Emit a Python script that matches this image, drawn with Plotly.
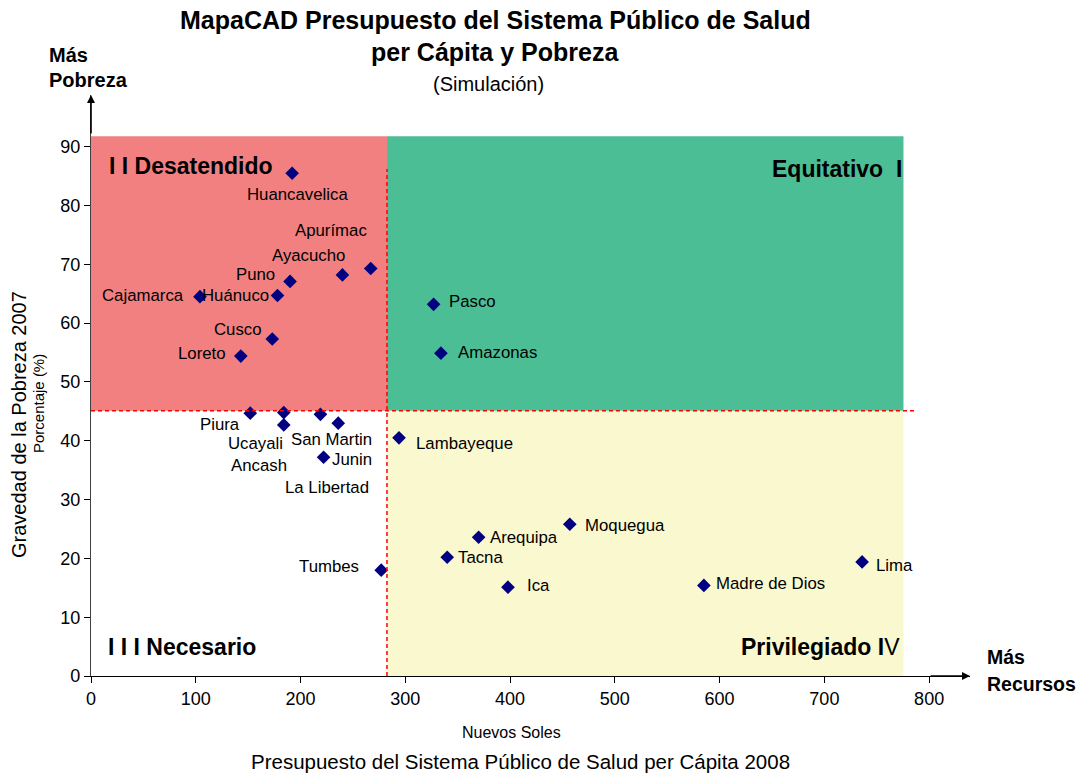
import plotly.graph_objects as go

# ---------------- data ----------------
departamentos = ["Huancavelica", "Apurímac", "Ayacucho", "Puno", "Huánuco", "Cajamarca",
                 "Pasco", "Cusco", "Amazonas", "Loreto", "Piura", "Ucayali", "San Martin",
                 "Junin", "Ancash", "Lambayeque", "La Libertad", "Moquegua", "Arequipa",
                 "Tacna", "Tumbes", "Madre de Dios", "Lima", "Ica"]
presupuesto = [192, 267, 240, 190, 178, 104,
               327, 173, 334, 143, 152, 184, 219,
               236, 184, 294, 222, 457, 370,
               340, 277, 585, 736, 398]
pobreza = [85.5, 69.3, 68.2, 67.1, 64.7, 64.5,
           63.2, 57.3, 54.9, 54.4, 44.7, 44.8, 44.5,
           43.0, 42.7, 40.5, 37.2, 25.8, 23.6,
           20.2, 18.0, 15.4, 19.4, 15.1]

x_ticks = [0, 100, 200, 300, 400, 500, 600, 700, 800]
y_ticks = [0, 10, 20, 30, 40, 50, 60, 70, 80, 90]

# quadrant limits (data units)
x_div = 282.5
y_div = 45.1
x_end = 775.5
y_top = 91.8

# ---------------- label placement (pixels) ----------------
# anchor, dx (px, right +), dy (px, down +)
label_pos = {
    "Huancavelica": ("center", 5.7, 21),
    "Apurímac": ("center", -39.4, -38.3),
    "Ayacucho": ("center", -34.4, -19.3),
    "Puno": ("right", -14.4, -7.4),
    "Huánuco": ("right", -7.3, 0),
    "Cajamarca": ("right", -14.7, -1),
    "Cusco": ("right", -9.6, -9.3),
    "Loreto": ("right", -14, -3),
    "Piura": ("right", -9.6, 11.7),
    "Ucayali": ("right", 0, 30.6),
    "Ancash": ("right", 4, 40.3),
    "San Martin": ("center", 10.6, 25),
    "Junin": ("left", -7, 36),
    "La Libertad": ("center", 3.2, 30),
    "Pasco": ("left", 14.7, -2.4),
    "Amazonas": ("left", 16, -0.6),
    "Lambayeque": ("left", 16, 5.3),
    "Moquegua": ("left", 14, 1.7),
    "Arequipa": ("left", 10, 0),
    "Tacna": ("left", 10, 0),
    "Tumbes": ("right", -21.3, -4),
    "Ica": ("left", 17.7, -2),
    "Lima": ("left", 12.6, 3.3),
    "Madre de Dios": ("left", 11.3, -2.4),
}

W, H = 1078, 773
L, R, T, B = 91, 108, 95, 97
PW, PH = W - L - R, H - T - B
FONT = "Liberation Sans, Arial, sans-serif"


def px(xp):
    return (xp - L) / PW


def py(yp):
    return (H - B - yp) / PH


fig = go.Figure()

fig.add_trace(go.Scatter(
    x=presupuesto, y=pobreza, mode="markers",
    marker=dict(symbol="diamond", size=10.5, color="#000080", line=dict(width=0)),
    text=departamentos, hoverinfo="text", showlegend=False, cliponaxis=False,
))

shapes = [
    dict(type="rect", xref="x", yref="y", x0=0, x1=x_div, y0=y_div, y1=y_top,
         fillcolor="#F28080", line=dict(width=0), layer="below"),
    dict(type="rect", xref="x", yref="y", x0=x_div, x1=x_end, y0=y_div, y1=y_top,
         fillcolor="#4BBE96", line=dict(width=0), layer="below"),
    dict(type="rect", xref="x", yref="y", x0=x_div, x1=x_end, y0=0, y1=y_div,
         fillcolor="#FAF8CE", line=dict(width=0), layer="below"),
    dict(type="line", xref="x", yref="y", x0=0, x1=787.5, y0=y_div, y1=y_div,
         line=dict(color="#FF0000", width=1.5, dash="4px,3px"), layer="above"),
    dict(type="line", xref="x", yref="y", x0=x_div, x1=x_div, y0=0, y1=86.2,
         line=dict(color="#FF0000", width=1.5, dash="4px,3px"), layer="above"),
]

ann = []
for name, xv, yv in zip(departamentos, presupuesto, pobreza):
    anc, dx, dy = label_pos[name]
    ann.append(dict(x=xv, y=yv, xref="x", yref="y", text=name, showarrow=False,
                    xanchor=anc, yanchor="middle", xshift=dx, yshift=-dy,
                    borderpad=0, font=dict(family=FONT, size=16.8, color="#000000")))

# quadrant names
qfont = dict(family=FONT, size=23, color="#000000")
ann += [
    dict(x=px(108), y=py(166), xref="paper", yref="paper", text="<b>I I Desatendido</b>",
         showarrow=False, xanchor="left", yanchor="middle", font=qfont, borderpad=0),
    dict(x=px(903), y=py(169), xref="paper", yref="paper", text="<b>Equitativo  I</b>",
         showarrow=False, xanchor="right", yanchor="middle", font=qfont, borderpad=0),
    dict(x=px(107), y=py(647), xref="paper", yref="paper", text="<b>I I I Necesario</b>",
         showarrow=False, xanchor="left", yanchor="middle", font=qfont, borderpad=0),
    dict(x=px(901), y=py(647), xref="paper", yref="paper", text="<b>Privilegiado I</b>V",
         showarrow=False, xanchor="right", yanchor="middle", font=qfont, borderpad=0),
]

# titles
ann += [
    dict(x=px(495), y=py(20), xref="paper", yref="paper",
         text="<b>MapaCAD Presupuesto del Sistema Público de Salud</b>",
         showarrow=False, xanchor="center", yanchor="middle",
         font=dict(family=FONT, size=25, color="#000000")),
    dict(x=px(495), y=py(52), xref="paper", yref="paper",
         text="<b>per Cápita y Pobreza</b>",
         showarrow=False, xanchor="center", yanchor="middle",
         font=dict(family=FONT, size=25, color="#000000")),
    dict(x=px(488), y=py(84), xref="paper", yref="paper", text="(Simulación)",
         showarrow=False, xanchor="center", yanchor="middle",
         font=dict(family=FONT, size=20, color="#000000")),
    dict(x=px(47), y=py(55), xref="paper", yref="paper", text="<b>Más</b>",
         showarrow=False, xanchor="left", yanchor="middle",
         font=dict(family=FONT, size=20, color="#000000")),
    dict(x=px(47), y=py(80), xref="paper", yref="paper", text="<b>Pobreza</b>",
         showarrow=False, xanchor="left", yanchor="middle",
         font=dict(family=FONT, size=20, color="#000000")),
    dict(x=px(985), y=py(657), xref="paper", yref="paper", text="<b>Más</b>",
         showarrow=False, xanchor="left", yanchor="middle",
         font=dict(family=FONT, size=19.5, color="#000000")),
    dict(x=px(985), y=py(684), xref="paper", yref="paper", text="<b>Recursos</b>",
         showarrow=False, xanchor="left", yanchor="middle",
         font=dict(family=FONT, size=19.5, color="#000000")),
    dict(x=px(19), y=py(425), xref="paper", yref="paper", text="Gravedad de la Pobreza 2007",
         showarrow=False, xanchor="center", yanchor="middle", textangle=-90,
         font=dict(family=FONT, size=20, color="#000000")),
    dict(x=px(38), y=py(404), xref="paper", yref="paper", text="Porcentaje (%)",
         showarrow=False, xanchor="center", yanchor="middle", textangle=-90,
         font=dict(family=FONT, size=15, color="#000000")),
    dict(x=px(511), y=py(732), xref="paper", yref="paper", text="Nuevos Soles",
         showarrow=False, xanchor="center", yanchor="middle",
         font=dict(family=FONT, size=16, color="#000000")),
    dict(x=px(520), y=py(761), xref="paper", yref="paper",
         text="Presupuesto del Sistema Público de Salud per Cápita 2008",
         showarrow=False, xanchor="center", yanchor="middle",
         font=dict(family=FONT, size=20.5, color="#000000")),
]

# axis arrows
ann += [
    dict(x=839, y=0, ax=800, ay=0, xref="x", yref="y", axref="x", ayref="y", text="",
         showarrow=True, arrowhead=2, arrowsize=1, arrowwidth=1.6, arrowcolor="#000000"),
    dict(x=0, y=98.8, ax=0, ay=92, xref="x", yref="y", axref="x", ayref="y", text="",
         showarrow=True, arrowhead=2, arrowsize=1, arrowwidth=1.6, arrowcolor="#000000"),
]

fig.update_layout(
    width=W, height=H,
    margin=dict(l=L, r=R, t=T, b=B),
    paper_bgcolor="#FFFFFF", plot_bgcolor="#FFFFFF",
    shapes=shapes, annotations=ann,
    font=dict(family=FONT, size=18, color="#000000"),
    xaxis=dict(range=[0, 839], tickvals=x_ticks, showgrid=False, zeroline=False,
               showline=True, linecolor="#000000", linewidth=1.3, ticks="outside",
               ticklen=6, tickcolor="#000000", tickfont=dict(size=18, family=FONT),
               fixedrange=True),
    yaxis=dict(range=[0, 98.8], tickvals=y_ticks, showgrid=False, zeroline=False,
               showline=True, linecolor="#404040", linewidth=1.3, ticks="outside",
               ticklen=6, tickcolor="#000000", tickfont=dict(size=18, family=FONT),
               fixedrange=True),
    showlegend=False,
)

fig.write_html(
    "out.html",
    config={"displayModeBar": False},
    post_script="document.body.style.margin='0px';document.body.style.padding='0px';"
                "document.body.style.overflow='hidden';",
)
